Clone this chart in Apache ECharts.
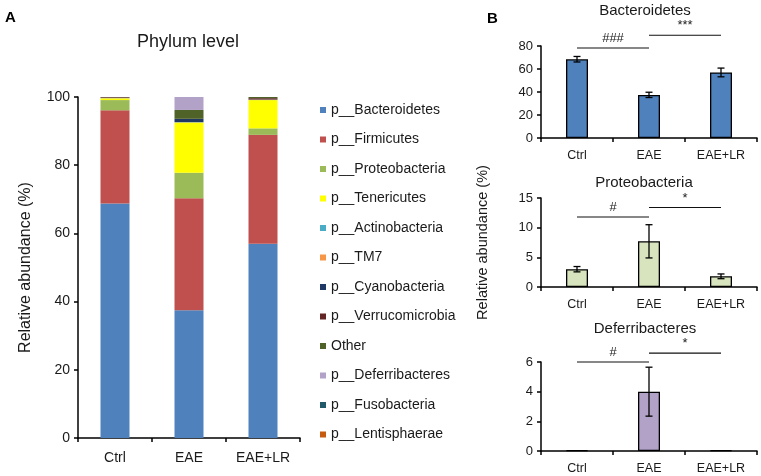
<!DOCTYPE html>
<html>
<head>
<meta charset="utf-8">
<script src="https://cdn.jsdelivr.net/npm/echarts@6/dist/echarts.min.js"></script>
<style>
  html, body { margin: 0; padding: 0; background: #fff; }
  #main { width: 761px; height: 476px; }
</style>
</head>
<body>
<div id="main"></div>
<script type="text/javascript">
// groups on the x axis
var groups = ['Ctrl', 'EAE', 'EAE+LR'];

// panel A: phylum composition (%), one array per phylum, in stack order
var phyla = ['p__Bacteroidetes', 'p__Firmicutes', 'p__Proteobacteria', 'p__Tenericutes',
  'p__Actinobacteria', 'p__TM7', 'p__Cyanobacteria', 'p__Verrucomicrobia', 'Other',
  'p__Deferribacteres', 'p__Fusobacteria', 'p__Lentisphaerae'];
var bacteroidetes   = [68.8, 37.5, 57.0];
var firmicutes      = [27.3, 32.8, 31.9];
var proteobacteria  = [3.0, 7.5, 1.9];
var tenericutes     = [0.5, 14.7, 8.3];
var actinobacteria  = [0.05, 0.1, 0.05];
var tm7             = [0.05, 0.05, 0.05];
var cyanobacteria   = [0.05, 0.9, 0.05];
var verrucomicrobia = [0.2, 0.05, 0.4];
var other           = [0.05, 2.6, 0.4];
var deferribacteres = [0.05, 4.0, 0.15];
var fusobacteria    = [0, 0, 0];
var lentisphaerae   = [0, 0, 0];
var phylaData = [bacteroidetes, firmicutes, proteobacteria, tenericutes, actinobacteria, tm7,
  cyanobacteria, verrucomicrobia, other, deferribacteres, fusobacteria, lentisphaerae];
var phylaColors = ['#4F81BD', '#C0504D', '#9BBB59', '#FFFF00', '#4BACC6', '#F79646',
  '#1F3864', '#632523', '#4F6228', '#B3A2C7', '#215968', '#C55A11'];

// panel B: mean and error per group
var bactMean = [68.5, 37.5, 57.0];
var bactErr  = [2.4, 2.3, 3.8];
var protMean = [3.0, 7.7, 1.8];
var protErr  = [0.45, 2.8, 0.4];
var defMean  = [0.05, 4.0, 0.05];
var defErr   = [0, 1.65, 0];

// significance bars: [from group, to group, height], with their labels
var bactSig = [[0, 1, 78.3], [1, 2, 89.3]];
var protSig = [[0, 1, 11.8], [1, 2, 13.4]];
var defSig  = [[0, 1, 6.0], [1, 2, 6.6]];
var bactSigText = ['###', '***'];
var protSigText = ['#', '*'];
var defSigText  = ['#', '*'];

var font = 'Liberation Sans, Arial, sans-serif';
var txt = '#1a1a1a';

var myChart = echarts.init(document.getElementById('main'));

function xAx(gi, margin, size) {
  return {
    type: 'category', gridIndex: gi, data: groups,
    axisLine: { lineStyle: { color: '#000', width: 1.5 } },
    axisTick: { show: true, alignWithLabel: false, length: 4, lineStyle: { color: '#000', width: 1.5 } },
    axisLabel: { color: txt, fontSize: size, fontFamily: font, margin: margin }
  };
}
function yAx(gi, max, interval, size, extra) {
  var ax = {
    type: 'value', gridIndex: gi, min: 0, max: max, interval: interval,
    splitLine: { show: false },
    axisLine: { show: true, lineStyle: { color: '#000', width: 1.5 } },
    axisTick: { show: true, length: 4, lineStyle: { color: '#000', width: 1.5 } },
    axisLabel: { color: txt, fontSize: size, fontFamily: font, margin: 8 }
  };
  for (var k in extra) ax[k] = extra[k];
  return ax;
}

// error bar drawing
function errSeries(gi, mean, err) {
  var d = [];
  for (var i = 0; i < mean.length; i++) d.push([i, mean[i], err[i]]);
  return {
    type: 'custom', xAxisIndex: gi, yAxisIndex: gi, data: d, z: 5, clip: false,
    renderItem: function (params, api) {
      var e = api.value(2);
      if (!e) return;
      var top = api.coord([api.value(0), api.value(1) + e]);
      var bot = api.coord([api.value(0), api.value(1) - e]);
      var st = { stroke: '#000', lineWidth: 1.3 };
      return { type: 'group', children: [
        { type: 'line', shape: { x1: top[0], y1: top[1], x2: bot[0], y2: bot[1] }, style: st },
        { type: 'line', shape: { x1: top[0] - 3.5, y1: top[1], x2: top[0] + 3.5, y2: top[1] }, style: st },
        { type: 'line', shape: { x1: bot[0] - 3.5, y1: bot[1], x2: bot[0] + 3.5, y2: bot[1] }, style: st }
      ]};
    }
  };
}

// significance line + symbol
function sigSeries(gi, sig, labels) {
  return {
    type: 'custom', xAxisIndex: gi, yAxisIndex: gi, data: sig, z: 6, clip: false,
    renderItem: function (params, api) {
      var a = api.coord([api.value(0), api.value(2)]);
      var b = api.coord([api.value(1), api.value(2)]);
      return { type: 'group', children: [
        { type: 'line', shape: { x1: a[0], y1: a[1], x2: b[0], y2: b[1] }, style: { stroke: '#111', lineWidth: 1.1 } },
        { type: 'text', x: (a[0] + b[0]) / 2, y: a[1] - 3,
          style: { text: labels[params.dataIndex], fill: '#222', font: '13px ' + font, align: 'center', verticalAlign: 'bottom' } }
      ]};
    }
  };
}

function barSeries(gi, mean, color) {
  return {
    type: 'bar', xAxisIndex: gi, yAxisIndex: gi, data: mean, barWidth: 22,
    itemStyle: { color: color, borderColor: '#000', borderWidth: 1.3 }
  };
}

var series = [];
for (var i = 0; i < phyla.length; i++) {
  series.push({
    name: phyla[i], type: 'bar', stack: 'phylum', xAxisIndex: 0, yAxisIndex: 0,
    data: phylaData[i], barWidth: 29,
    itemStyle: { color: phylaColors[i] }
  });
}
series.push(barSeries(1, bactMean, '#4F81BD'), errSeries(1, bactMean, bactErr), sigSeries(1, bactSig, bactSigText));
series.push(barSeries(2, protMean, '#D7E4BD'), errSeries(2, protMean, protErr), sigSeries(2, protSig, protSigText));
series.push(barSeries(3, defMean, '#B3A2C7'), errSeries(3, defMean, defErr), sigSeries(3, defSig, defSigText));

myChart.setOption({
  backgroundColor: '#fff',
  animation: false,
  textStyle: { fontFamily: font },
  title: [
    { text: 'A', left: 0, top: 5, textStyle: { fontSize: 15, fontWeight: 'bold', color: '#000', fontFamily: font } },
    { text: 'B', left: 482, top: 6, textStyle: { fontSize: 15, fontWeight: 'bold', color: '#000', fontFamily: font } },
    { text: 'Phylum level', left: 183, top: 28.5, textAlign: 'center', textStyle: { fontSize: 18, fontWeight: 'normal', color: txt, fontFamily: font } },
    { text: 'Bacteroidetes', left: 640, top: -1.5, textAlign: 'center', textStyle: { fontSize: 15, fontWeight: 'normal', color: txt, fontFamily: font } },
    { text: 'Proteobacteria', left: 639, top: 170.5, textAlign: 'center', textStyle: { fontSize: 15, fontWeight: 'normal', color: txt, fontFamily: font } },
    { text: 'Deferribacteres', left: 640, top: 316.5, textAlign: 'center', textStyle: { fontSize: 15, fontWeight: 'normal', color: txt, fontFamily: font } }
  ],
  legend: {
    data: phyla, orient: 'vertical', left: 315, top: 98,
    itemWidth: 6, itemHeight: 6, itemGap: 15.5, icon: 'rect',
    textStyle: { color: txt, fontSize: 14, fontFamily: font }
  },
  grid: [
    { left: 78, width: 222, top: 97, height: 341 },
    { left: 541, width: 216, top: 46, height: 92 },
    { left: 541, width: 216, top: 198, height: 89 },
    { left: 541, width: 216, top: 362, height: 89 }
  ],
  xAxis: [xAx(0, 13, 14), xAx(1, 11, 12.5), xAx(2, 11, 12.5), xAx(3, 11, 12.5)],
  yAxis: [
    yAx(0, 100, 20, 14, { name: 'Relative abundance (%)', nameLocation: 'middle', nameGap: 44,
      nameTextStyle: { fontSize: 16, color: txt, fontFamily: font } }),
    yAx(1, 80, 20, 13, {}),
    yAx(2, 15, 5, 13, { name: 'Relative abundance (%)', nameLocation: 'middle', nameGap: 51,
      nameTextStyle: { fontSize: 14.5, color: txt, fontFamily: font } }),
    yAx(3, 6, 2, 13, {})
  ],
  series: series
});
window.onresize = myChart.resize;
</script>
</body>
</html>
